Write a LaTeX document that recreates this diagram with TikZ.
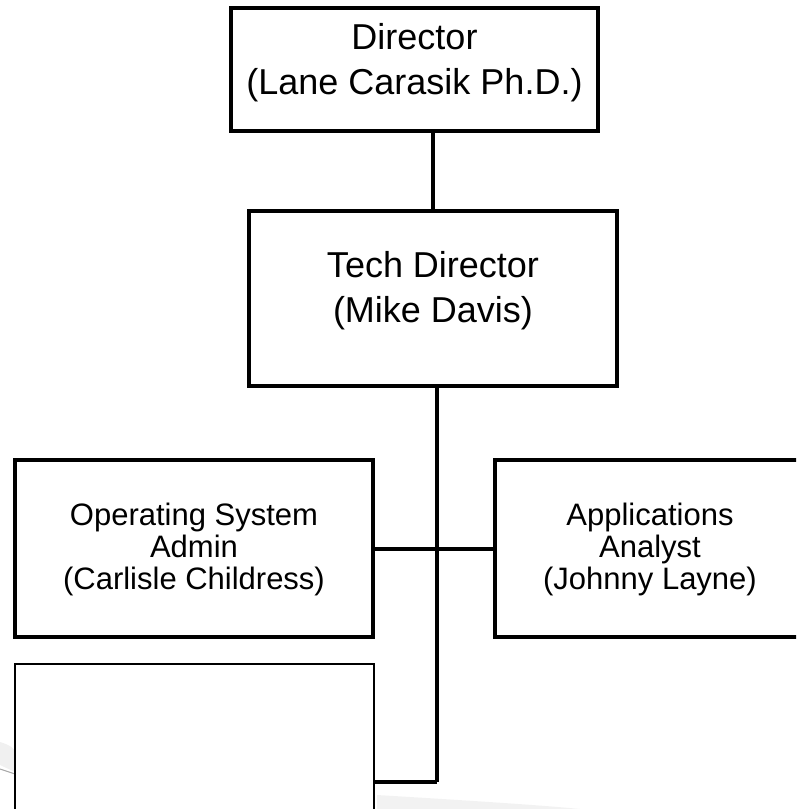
\documentclass[tikz,border=0pt]{standalone}
\usepackage{fontspec}
\setmainfont{Liberation Sans}
\usetikzlibrary{positioning}

\tikzset{
  post/.style={draw, line width=4pt, align=center, inner sep=0pt,
    font=\fontsize{36}{45}\selectfont, text depth=22pt},
  staff/.style={post, font=\fontsize{31}{32}\selectfont, text depth=5pt},
  link/.style={line width=4pt}
}

\begin{document}
\begin{tikzpicture}[x=1pt,y=-1pt]
\clip (0,0) rectangle (796,809);

% the faint swoosh behind the lower box
\fill[gray!12] (0,742) .. controls (10,745) and (14,748) .. (15,752) -- (15,772) .. controls (8,768) .. (0,765) -- cycle;
\draw[gray!70, line width=1pt] (0,769) -- (15,774);
\fill[gray!10] (377,795) .. controls (460,800) and (540,805) .. (580,809) -- (377,809) -- cycle;

    \node[post, minimum width=367pt, minimum height=123pt] (dir) at (414.5,69.5) {Director\\(Lane Carasik Ph.D.)};
    \node[post, minimum width=368pt, minimum height=175pt] (tech) at (433,298) {Tech Director\\(Mike Davis)};
    \node[staff, minimum width=358pt, minimum height=177pt] (os) at (194,548.5) {Operating System\\Admin\\(Carlisle Childress)};
    \node[staff, minimum width=310pt, minimum height=177pt] (apps) at (650,548.5) {Applications\\Analyst\\(Johnny Layne)};
    \node[draw, line width=2pt, minimum width=359pt, minimum height=200pt] (blank) at (194.5,764) {};

\coordinate (end) at (437,782);

\draw[link] (dir.south -| tech.north) -- (tech.north);
\draw[link] (tech.south -| end) -- (end);
\draw[link] (os.east) -- (apps.west);
\draw[link] (end -| blank.east) -- (end);
\end{tikzpicture}
\end{document}
